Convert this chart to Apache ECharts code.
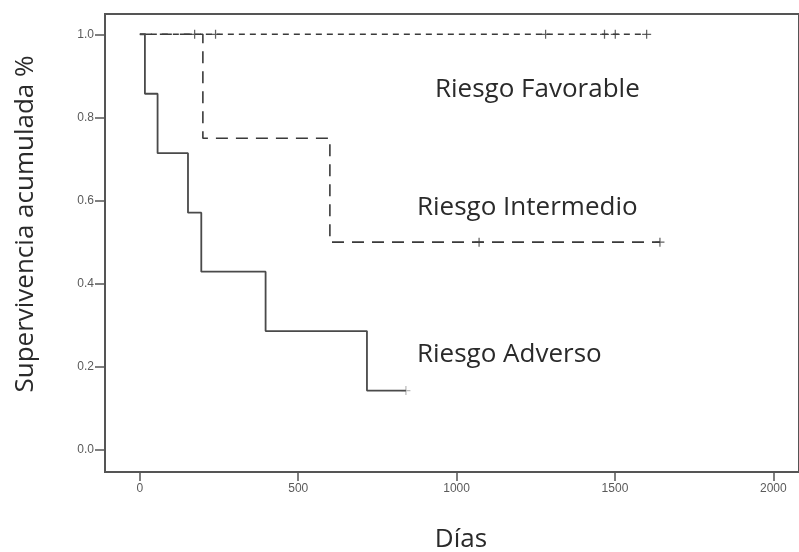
<!DOCTYPE html>
<html>
<head>
<meta charset="utf-8">
<script src="https://cdn.jsdelivr.net/npm/echarts@6/dist/echarts.min.js"></script>
<style>html,body{margin:0;padding:0;background:#fff}#c{width:799px;height:552px}</style>
</head>
<body>
<div id="c"></div>
<script>
// Kaplan-Meier curves (days, cumulative survival)
const adversoDias = [0, 16, 56, 152, 194, 397, 717, 840];
const adversoSurv = [1, 0.857, 0.714, 0.571, 0.429, 0.286, 0.143, 0.143];
const adversoCensura = [840];

const intermedioDias = [0, 199, 600, 1642];
const intermedioSurv = [1, 0.75, 0.5, 0.5];
const intermedioCensura = [1071, 1642];

const favorableDias = [0, 1600];
const favorableSurv = [1, 1];
const favorableCensura = [173, 239, 1281, 1467, 1501, 1600];

const xTicks = [0, 500, 1000, 1500, 2000];
const yTicks = [0, 0.2, 0.4, 0.6, 0.8, 1.0];

function pairs(t, s) { return t.map((v, i) => [v, s[i]]); }
function censor(t, t0, s0) {
  return t.map(v => {
    let y = s0[0];
    for (let i = 0; i < t0.length; i++) if (t0[i] <= v) y = s0[i];
    return [v, y];
  });
}

const plus = 'path://M-4,-0.55H4V0.55H-4Z M-0.55,-4H0.55V4H-0.55Z';
const lineCol = '#3a3a3a';
const font = '"Open Sans", "Noto Sans", sans-serif';

const chart = echarts.init(document.getElementById('c'), null, {renderer: 'canvas'});
chart.setOption({
  animation: false,
  backgroundColor: '#fff',
  grid: {left: 105, top: 14, right: -2, bottom: 80, show: true, borderColor: '#555', borderWidth: 2},
  xAxis: {
    type: 'value', min: -110, max: 2081,
    axisLine: {show: true, onZero: false, lineStyle: {color: '#555', width: 2}},
    axisTick: {show: true, length: 9, customValues: xTicks, lineStyle: {color: '#555', width: 1.5}},
    axisLabel: {customValues: xTicks, color: '#5a5a5a', fontSize: 12, fontFamily: 'Liberation Sans', margin: 11,
      formatter: v => String(v)},
    splitLine: {show: false}
  },
  yAxis: {
    type: 'value', min: -0.0529, max: 1.0488,
    axisLine: {show: true, onZero: false, lineStyle: {color: '#555', width: 2}},
    axisTick: {show: true, length: 10, customValues: yTicks, lineStyle: {color: '#555', width: 1.5}},
    axisLabel: {customValues: yTicks, color: '#5a5a5a', fontSize: 12, fontFamily: 'Liberation Sans', margin: 11,
      formatter: v => v.toFixed(1)},
    splitLine: {show: false}
  },
  series: [
    {type: 'line', name: 'Riesgo Favorable', step: 'end', data: pairs(favorableDias, favorableSurv), symbol: 'none',
     lineStyle: {color: lineCol, width: 1.6, type: [6, 5]}},
    {type: 'line', name: 'Riesgo Intermedio', step: 'end', data: pairs(intermedioDias, intermedioSurv), symbol: 'none',
     lineStyle: {color: lineCol, width: 1.6, type: [12, 8]}},
    {type: 'line', name: 'Riesgo Adverso', step: 'end', data: pairs(adversoDias, adversoSurv), symbol: 'none',
     lineStyle: {color: '#4a4a4a', width: 1.8}},
    {type: 'scatter', data: censor(favorableCensura, favorableDias, favorableSurv), symbol: plus, symbolSize: 9,
     itemStyle: {color: lineCol}},
    {type: 'scatter', data: censor(intermedioCensura, intermedioDias, intermedioSurv), symbol: plus, symbolSize: 9,
     itemStyle: {color: lineCol}},
    {type: 'scatter', data: censor(adversoCensura, adversoDias, adversoSurv), symbol: plus, symbolSize: 9,
     itemStyle: {color: '#aaa'}}
  ],
  graphic: [
    {type: 'text', x: 26, y: 224, rotation: Math.PI / 2,
     style: {text: 'Supervivencia acumulada %', font: '26px ' + font, fill: '#2a2a2a', align: 'center', verticalAlign: 'middle'}},
    {type: 'text', x: 461, y: 540,
     style: {text: 'Días', font: '26px ' + font, fill: '#2a2a2a', align: 'center', verticalAlign: 'middle'}},
    {type: 'text', x: 435, y: 90,
     style: {text: 'Riesgo Favorable', font: '26px ' + font, fill: '#2a2a2a', align: 'left', verticalAlign: 'middle'}},
    {type: 'text', x: 417, y: 208,
     style: {text: 'Riesgo Intermedio', font: '26px ' + font, fill: '#2a2a2a', align: 'left', verticalAlign: 'middle'}},
    {type: 'text', x: 417, y: 355,
     style: {text: 'Riesgo Adverso', font: '26px ' + font, fill: '#2a2a2a', align: 'left', verticalAlign: 'middle'}}
  ]
});
</script>
</body>
</html>
